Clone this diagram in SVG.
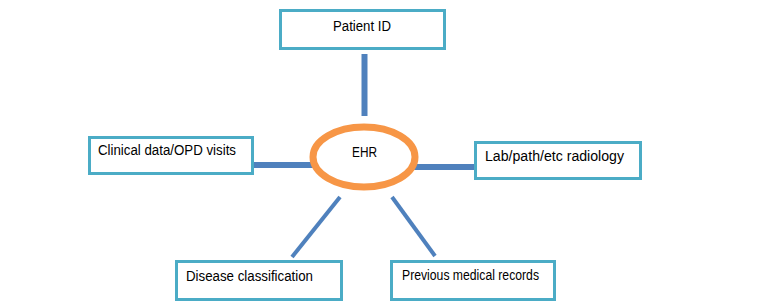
<svg xmlns="http://www.w3.org/2000/svg" width="774" height="308" viewBox="0 0 774 308">
<style>
.box{fill:#fff;stroke:#4BACC6;stroke-width:3}
.lbl{font-family:"Liberation Sans",Arial,sans-serif;font-size:14px;fill:#000}
.con{stroke:#4F81BD;fill:none}
</style>
<rect width="774" height="308" fill="#fff"/>
<g id="connectors">
<line class="con" x1="364.5" y1="54" x2="364.5" y2="116" stroke-width="6"/>
<line class="con" x1="250" y1="165" x2="317" y2="165" stroke-width="6"/>
<line class="con" x1="411" y1="167" x2="478" y2="167" stroke-width="6"/>
<line class="con" x1="340" y1="197" x2="292" y2="257" stroke-width="4"/>
<line class="con" x1="392" y1="197" x2="435" y2="256" stroke-width="4"/>
</g>
<g id="ehr">
<ellipse cx="364" cy="157" rx="51" ry="30" fill="#fff" stroke="#F79646" stroke-width="7"/>
<text class="lbl" x="352" y="157" textLength="25" lengthAdjust="spacingAndGlyphs">EHR</text>
</g>
<g id="patient-id">
<rect class="box" x="280.5" y="10.5" width="164" height="38"/>
<text class="lbl" x="333" y="31" textLength="58" lengthAdjust="spacingAndGlyphs">Patient ID</text>
</g>
<g id="clinical">
<rect class="box" x="89.5" y="137.5" width="163" height="36"/>
<text class="lbl" x="98" y="155" textLength="138" lengthAdjust="spacingAndGlyphs">Clinical data/OPD visits</text>
</g>
<g id="lab">
<rect class="box" x="475.5" y="142.5" width="165" height="36"/>
<text class="lbl" x="485" y="161" textLength="139" lengthAdjust="spacingAndGlyphs">Lab/path/etc radiology</text>
</g>
<g id="disease">
<rect class="box" x="176.5" y="261.5" width="165" height="38"/>
<text class="lbl" x="186" y="281" textLength="127" lengthAdjust="spacingAndGlyphs">Disease classification</text>
</g>
<g id="previous">
<rect class="box" x="391.5" y="261.5" width="163" height="38"/>
<text class="lbl" x="402" y="280" font-size="13" textLength="137" lengthAdjust="spacingAndGlyphs">Previous medical records</text>
</g>
</svg>
